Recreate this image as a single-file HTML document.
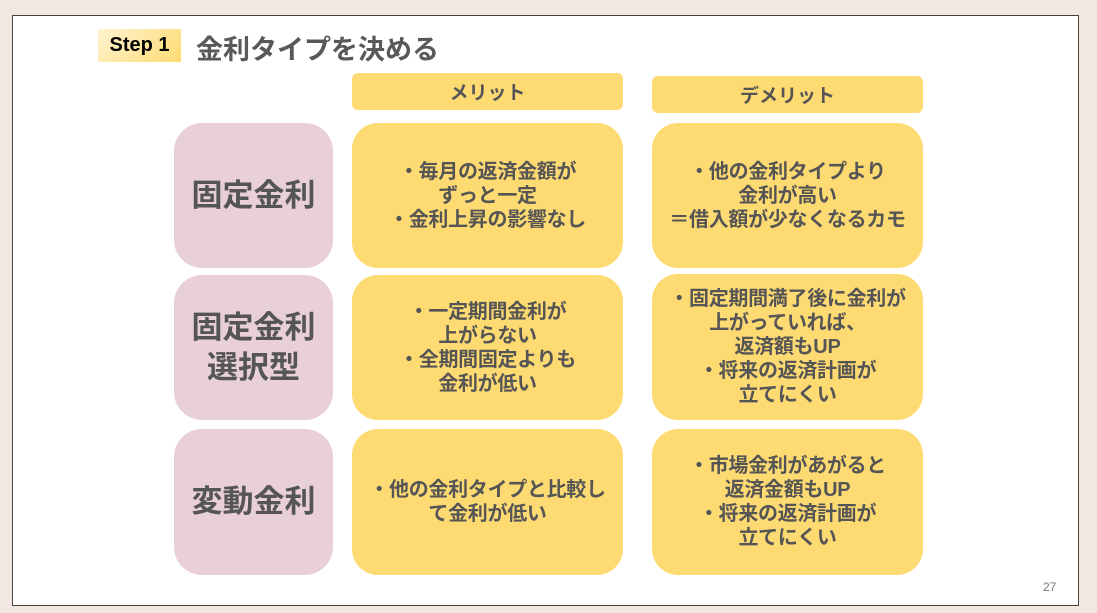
<!DOCTYPE html>
<html><head><meta charset="utf-8"><style>
body{margin:0;width:1097px;height:613px;background:#f2e7e2;position:relative;overflow:hidden;font-family:"Liberation Sans","Noto Sans CJK JP",sans-serif;}
.slide{position:absolute;left:12px;top:15px;width:1065px;height:589px;background:#fff;border:1px solid #4a4335;}
.b{position:absolute;display:flex;align-items:center;justify-content:center;text-align:center;color:#555;font-weight:bold;}
.y{background:#fedb72;border-radius:26px;font-size:20px;line-height:24px;letter-spacing:-0.3px;}
.p{background:#e8cfda;border-radius:28px;font-size:31px;line-height:40px;}
.h{background:#fedb72;border-radius:6px;font-size:19px;}
</style></head><body>
<div class="slide"></div>
<div class="b" style="left:98px;top:29px;width:83px;height:33px;background:linear-gradient(135deg,#fff3d0,#fedb72);color:#000;font-size:20px;">Step 1</div>
<div class="b" style="left:196px;top:28px;height:38px;font-size:27px;color:#595959;">金利タイプを決める</div>
<div class="b h" style="left:352px;top:73px;width:271px;height:37px;">メリット</div>
<div class="b h" style="left:652px;top:76px;width:271px;height:37px;">デメリット</div>
<div class="b p" style="left:174px;top:123px;width:159px;height:145px;">固定金利</div>
<div class="b p" style="left:174px;top:275px;width:159px;height:145px;">固定金利<br>選択型</div>
<div class="b p" style="left:174px;top:429px;width:159px;height:146px;">変動金利</div>
<div class="b y" style="left:352px;top:123px;width:271px;height:145px;">・毎月の返済金額が<br>ずっと一定<br>・金利上昇の影響なし</div>
<div class="b y" style="left:352px;top:275px;width:271px;height:145px;">・一定期間金利が<br>上がらない<br>・全期間固定よりも<br>金利が低い</div>
<div class="b y" style="left:352px;top:429px;width:271px;height:146px;">・他の金利タイプと比較し<br>て金利が低い</div>
<div class="b y" style="left:652px;top:123px;width:271px;height:145px;">・他の金利タイプより<br>金利が高い<br>＝借入額が少なくなるカモ</div>
<div class="b y" style="left:652px;top:274px;width:271px;height:146px;">・固定期間満了後に金利が<br>上がっていれば、<br>返済額もUP<br>・将来の返済計画が<br>立てにくい</div>
<div class="b y" style="left:652px;top:429px;width:271px;height:146px;">・市場金利があがると<br>返済金額もUP<br>・将来の返済計画が<br>立てにくい</div>
<div style="position:absolute;left:1043px;top:580px;font-size:12px;color:#777;">27</div>
</body></html>
